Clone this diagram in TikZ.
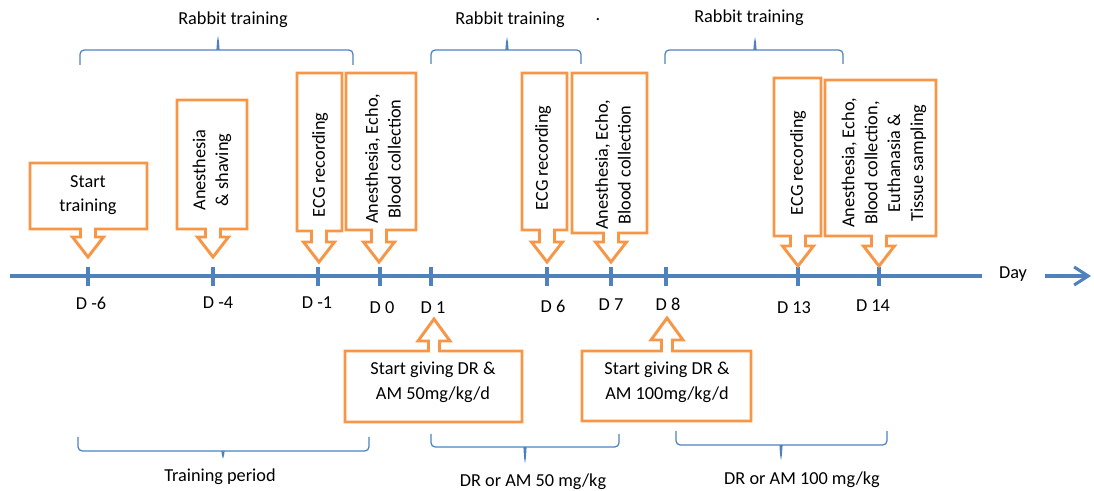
\documentclass[tikz,border=0pt]{standalone}
\usepackage{fontspec}
\setmainfont{Carlito}
\usetikzlibrary{arrows.meta, positioning}
\definecolor{corange}{HTML}{F79646}
\definecolor{cblue}{HTML}{4F81BD}
\tikzset{
  every picture/.style={font=\fontsize{13}{17.5}\selectfont},
  callbox/.style={draw=corange, fill=white, line width=2.1pt, line join=miter},
  txt/.style={align=center, inner sep=0pt},
  vtxt/.style={txt, rotate=90, font=\fontsize{13}{16.3}\selectfont},
  brc/.style={draw=cblue, line width=0.9pt, rounded corners=3pt},
  axis/.style={draw=cblue, line width=2.2pt},
}
% down callout: left, top, right, bottom, centre x, tip y
\newcommand{\downcall}[6]{%
  \draw[callbox] (#1,#2) -- (#3,#2) -- (#3,#4) -- (#5+7.5,#4) -- (#5+7.5,#6-20) -- (#5+15.5,#6-20)
    -- (#5,#6) -- (#5-15.5,#6-20) -- (#5-7.5,#6-20) -- (#5-7.5,#4) -- (#1,#4) -- cycle;}
% up callout: left, top, right, bottom, centre x, tip y
\newcommand{\upcall}[6]{%
  \draw[callbox] (#1,#2) -- (#5-5.5,#2) -- (#5-5.5,#6+22) -- (#5-16,#6+22) -- (#5,#6)
    -- (#5+16,#6+22) -- (#5+5.5,#6+22) -- (#5+5.5,#2) -- (#3,#2) -- (#3,#4) -- (#1,#4) -- cycle;}
% brace: x1, x2, tip x, end y, line y, tip y
\newcommand{\obrace}[6]{%
  \draw[brc] (#1,#4) -- (#1,#5) -- (#3-5,#5) .. controls (#3-1,#5) .. (#3,#6)
    .. controls (#3+1,#5) .. (#3+5,#5) -- (#2,#5) -- (#2,#4);}

\begin{document}
\begin{tikzpicture}[x=0.025cm, y=-0.025cm]
  \useasboundingbox (0,0) rectangle (1094,491);
  % time axis
  \coordinate (ax0) at (10,276); \coordinate (ax1) at (982,276);
  \draw[axis] (ax0) -- (ax1);
  \node[txt] (day) at (1013,274) {Day};
  \coordinate (dy0) at (1045,276); \coordinate (dy1) at (1091,276);
  \draw[axis, -{Straight Barb[length=3.5mm, width=4.5mm, line width=2.2pt]}] (dy0) -- (dy1);
  \foreach \x/\lx/\ly/\d in {88/91/303/-6, 213/218/303/-4, 318/317/303/-1, 380/382/308/0, 431/433/308/1,
      547/553/306/6, 611/611/305/7, 666/668/304/8, 798/794/308/13, 879/873/306/14} {
    \draw[axis] (\x,267) -- (\x,286);
    \node[txt] (d\d) at (\lx,\ly) {D \d};
  }
  % rabbit training braces
  \obrace{80}{353}{218}{65}{50}{37}
  \obrace{431}{581}{507}{64}{50}{38}
  \obrace{665}{843}{755}{64}{50}{38}
  \node[txt] (rt1) at (233,20) {Rabbit training};
  \node[txt] (rt2) at (510,20) {Rabbit training};
  \node[txt] (rt3) at (749,18) {Rabbit training};
  \node[txt] (dot) at (598,20) {.};
  % events above the axis
  \downcall{30}{163}{147}{229}{88}{257}
  \node[txt] (start) at (88,195) {Start\\training};
  \downcall{177}{100}{247}{229}{213}{257}
  \node[vtxt] (shave) at (212,170) {Anesthesia\\\& shaving};
  \downcall{297}{73}{342}{231}{319}{262}
  \node[vtxt] (ecg1) at (320,165) {ECG recording};
  \downcall{346}{73}{416}{230}{379}{262}
  \node[vtxt] (echo1) at (383,159) {Anesthesia, Echo,\\Blood collection};
  \downcall{522}{73}{567}{230}{547}{262}
  \node[vtxt] (ecg2) at (543,158) {ECG recording};
  \downcall{572}{73}{647}{233}{611}{262}
  \node[vtxt] (echo2) at (613,165) {Anesthesia, Echo,\\Blood collection};
  \downcall{774}{78}{821}{236}{798}{266}
  \node[vtxt] (ecg3) at (798,163) {ECG recording};
  \downcall{825}{80}{936}{236}{879}{266}
  \node[vtxt] (end) at (884,163) {Anesthesia, Echo,\\Blood collection,\\Euthanasia \&\\Tissue sampling};
  % dosing below the axis
  \upcall{345}{351}{522}{422}{434}{319}
  \node[txt] (dose1) at (433,382) {Start giving DR \&\\AM 50mg/kg/d};
  \upcall{582}{351}{751}{421}{667}{318}
  \node[txt] (dose2) at (667,382) {Start giving DR \&\\AM 100mg/kg/d};
  % period braces
  \obrace{78}{369}{223}{437}{451}{459}
  \obrace{431}{619}{525}{434}{447}{462}
  \obrace{676}{887}{781}{431}{445}{459}
  \node[txt] (train) at (220,477) {Training period};
  \node[txt] (per1) at (533,482) {DR or AM 50 mg/kg};
  \node[txt] (per2) at (802,480) {DR or AM 100 mg/kg};
\end{tikzpicture}
\end{document}
